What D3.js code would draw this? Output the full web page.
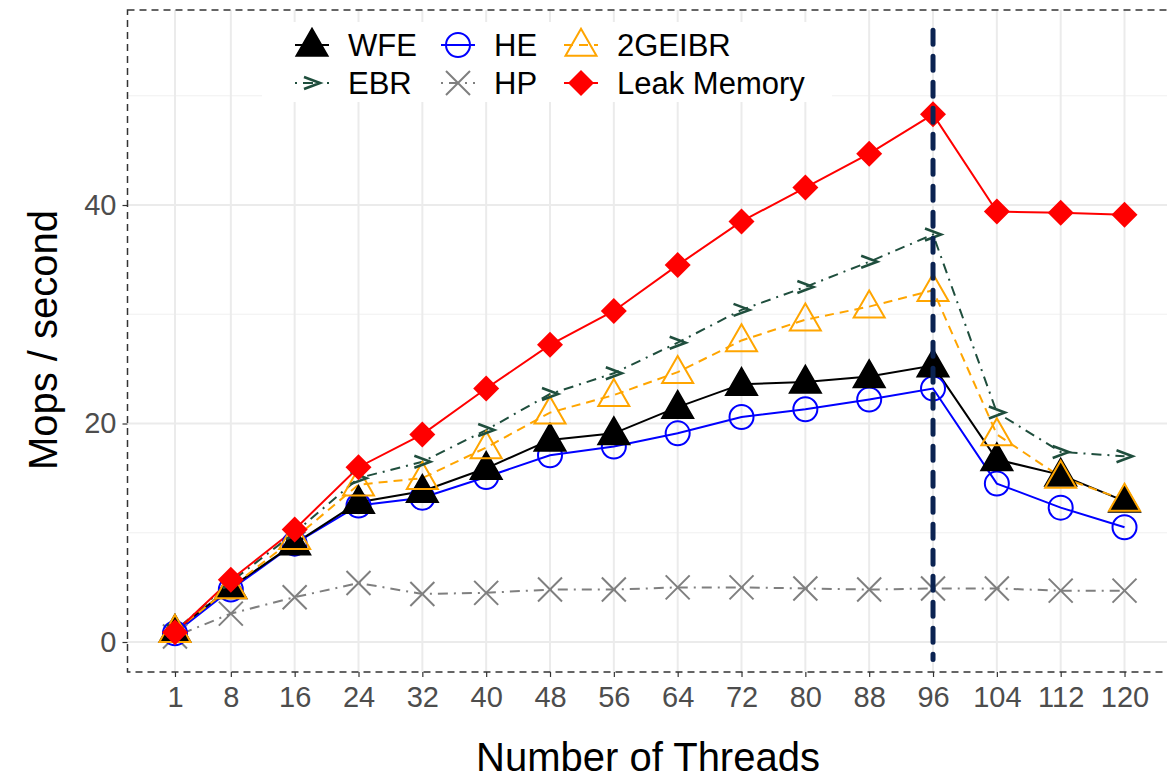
<!DOCTYPE html>
<html>
<head>
<meta charset="utf-8">
<script src="https://cdn.jsdelivr.net/npm/d3@7"></script>
<style>
  body { margin: 0; background: #fff; }
  text { font-family: "Liberation Sans", Arial, Helvetica, sans-serif; }
</style>
</head>
<body>
<svg id="chart" width="1167" height="780"></svg>
<script>
// Thread counts on the x axis.
const threads = [1, 8, 16, 24, 32, 40, 48, 56, 64, 72, 80, 88, 96, 104, 112, 120];

// Throughput (Mops / second).
const wfe = [1.0, 5.0, 9.0, 12.8, 13.8, 15.9, 18.5, 19.1, 21.5, 23.6, 23.8, 24.3, 25.3, 16.7, 15.3, 12.9];
const he = [0.8, 4.8, 9.0, 12.5, 13.2, 15.1, 17.1, 17.9, 19.1, 20.6, 21.3, 22.2, 23.2, 14.5, 12.3, 10.5];
const geibr = [1.0, 5.0, 9.5, 14.4, 15.0, 17.8, 21.0, 22.6, 24.7, 27.6, 29.5, 30.7, 32.2, 19.0, 15.1, 13.0];
const ebr = [1.0, 5.5, 10.0, 15.0, 16.5, 19.4, 22.7, 24.6, 27.4, 30.4, 32.5, 34.8, 37.3, 21.0, 17.4, 17.0];
const hp = [0.5, 2.6, 4.1, 5.4, 4.4, 4.5, 4.8, 4.8, 5.0, 5.0, 4.9, 4.8, 4.9, 4.9, 4.7, 4.7];
const leak = [0.9, 5.7, 10.3, 16.0, 19.0, 23.2, 27.2, 30.3, 34.5, 38.5, 41.6, 44.7, 48.3, 39.4, 39.3, 39.1];

const yTicks = [0, 20, 40];
const yMinor = [10, 30, 50];
const markerThread = 96;

const series = [
  {name: 'HP', values: hp, color: '#7f7f7f', dash: '2,6,10,6', shape: 'cross'},
  {name: 'HE', values: he, color: '#0000ff', dash: null, shape: 'circle'},
  {name: 'WFE', values: wfe, color: '#000000', dash: null, shape: 'triangleFilled'},
  {name: '2GEIBR', values: geibr, color: '#ffa500', dash: '9,6', shape: 'triangleOpen'},
  {name: 'EBR', values: ebr, color: '#1f4e3d', dash: '2,6,10,6', shape: 'chevron'},
  {name: 'Leak Memory', values: leak, color: '#ff0000', dash: null, shape: 'diamond'},
];

const panel = {left: 127.5, right: 1172, top: 10, bottom: 672};

const svg = d3.select('#chart');

const x = d3.scaleLinear()
    .domain([1 - 5.95, 120 + 5.95])
    .range([panel.left, panel.right]);
const y = d3.scaleLinear()
    .domain([-2.746, 57.85])
    .range([panel.bottom, panel.top]);

/**
 * Draws one point marker of the given shape into a group.
 */
function drawShape(g, shape, color, cx, cy) {
  if (shape === 'triangleFilled' || shape === 'triangleOpen') {
    const w = 15.5, h = 27;
    const path = `M${cx},${cy - h * 0.6} L${cx + w},${cy + h * 0.4} L${cx - w},${cy + h * 0.4} Z`;
    g.append('path')
        .attr('d', path)
        .attr('fill', shape === 'triangleFilled' ? color : 'none')
        .attr('stroke', color)
        .attr('stroke-width', 2);
  } else if (shape === 'circle') {
    g.append('circle')
        .attr('cx', cx).attr('cy', cy).attr('r', 12)
        .attr('fill', 'none')
        .attr('stroke', color)
        .attr('stroke-width', 2);
  } else if (shape === 'cross') {
    const s = 12;
    g.append('path')
        .attr('d', `M${cx - s},${cy - s} L${cx + s},${cy + s} M${cx - s},${cy + s} L${cx + s},${cy - s}`)
        .attr('stroke', color)
        .attr('stroke-width', 2)
        .attr('fill', 'none');
  } else if (shape === 'diamond') {
    const s = 13;
    g.append('path')
        .attr('d', `M${cx},${cy - s} L${cx + s},${cy} L${cx},${cy + s} L${cx - s},${cy} Z`)
        .attr('fill', color);
  } else if (shape === 'chevron') {
    g.append('path')
        .attr('d', `M${cx - 8},${cy - 6} L${cx + 8},${cy} L${cx - 8},${cy + 6}`)
        .attr('stroke', color)
        .attr('stroke-width', 2.6)
        .attr('fill', 'none');
  }
}

// Grid lines.
const grid = svg.append('g');
grid.selectAll('line.minor-y')
    .data(yMinor)
    .join('line')
    .attr('x1', panel.left).attr('x2', panel.right)
    .attr('y1', d => y(d)).attr('y2', d => y(d))
    .attr('stroke', '#f0f0f0').attr('stroke-width', 1.2);
grid.selectAll('line.major-y')
    .data(yTicks)
    .join('line')
    .attr('x1', panel.left).attr('x2', panel.right)
    .attr('y1', d => y(d)).attr('y2', d => y(d))
    .attr('stroke', '#ebebeb').attr('stroke-width', 2);
grid.selectAll('line.major-x')
    .data(threads)
    .join('line')
    .attr('x1', d => x(d)).attr('x2', d => x(d))
    .attr('y1', panel.top).attr('y2', panel.bottom)
    .attr('stroke', '#ebebeb').attr('stroke-width', 2);

// Legend background covers the grid.
svg.append('rect')
    .attr('x', 262).attr('y', 22)
    .attr('width', 570).attr('height', 80)
    .attr('fill', '#fff');

// Lines and points.
const line = d3.line()
    .x((d, i) => x(threads[i]))
    .y(d => y(d));

const plot = svg.append('g');
series.forEach(s => {
  plot.append('path')
      .datum(s.values)
      .attr('d', line)
      .attr('fill', 'none')
      .attr('stroke', s.color)
      .attr('stroke-width', 2)
      .attr('stroke-dasharray', s.dash);
});
series.forEach(s => {
  const g = plot.append('g');
  s.values.forEach((v, i) => drawShape(g, s.shape, s.color, x(threads[i]), y(v)));
});

// Vertical marker at 96 threads.
svg.append('line')
    .attr('x1', x(markerThread)).attr('x2', x(markerThread))
    .attr('y1', y(56)).attr('y2', y(-1.6))
    .attr('stroke', '#0b2352')
    .attr('stroke-width', 5)
    .attr('stroke-linecap', 'round')
    .attr('stroke-dasharray', '14,12');

// Dashed panel border.
svg.append('rect')
    .attr('x', panel.left).attr('y', panel.top)
    .attr('width', panel.right - panel.left)
    .attr('height', panel.bottom - panel.top)
    .attr('fill', 'none')
    .attr('stroke', '#333')
    .attr('stroke-width', 1.5)
    .attr('stroke-dasharray', '7,5');

// Axes.
const xAxis = d3.axisBottom(x).tickValues(threads).tickSize(5).tickPadding(8);
const gx = svg.append('g')
    .attr('transform', `translate(0,${panel.bottom})`)
    .call(xAxis);
gx.select('.domain').remove();
gx.selectAll('.tick line').attr('stroke', '#333').attr('stroke-width', 1.2);
gx.selectAll('.tick text')
    .attr('fill', '#4d4d4d')
    .style('font-size', '29px')
    .attr('dy', '0.75em');

const yAxis = d3.axisLeft(y).tickValues(yTicks).tickSize(5).tickPadding(6);
const gy = svg.append('g')
    .attr('transform', `translate(${panel.left},0)`)
    .call(yAxis);
gy.select('.domain').remove();
gy.selectAll('.tick line').attr('stroke', '#333').attr('stroke-width', 1.2);
gy.selectAll('.tick text')
    .attr('fill', '#4d4d4d')
    .style('font-size', '29px');

// Axis titles.
svg.append('text')
    .attr('x', 648).attr('y', 771)
    .attr('text-anchor', 'middle')
    .style('font-size', '40px')
    .text('Number of Threads');
svg.append('text')
    .attr('transform', 'translate(57,340) rotate(-90)')
    .attr('text-anchor', 'middle')
    .style('font-size', '40px')
    .text('Mops / second');

// Legend.
const legendItems = [
  {name: 'WFE', col: 0, row: 0},
  {name: 'HE', col: 1, row: 0},
  {name: '2GEIBR', col: 2, row: 0},
  {name: 'EBR', col: 0, row: 1},
  {name: 'HP', col: 1, row: 1},
  {name: 'Leak Memory', col: 2, row: 1},
];
const legendKeyX = [312, 458, 581];
const legendRowY = [45, 83];
const legend = svg.append('g');
legendItems.forEach(item => {
  const s = series.find(d => d.name === item.name);
  const kx = legendKeyX[item.col];
  const ky = legendRowY[item.row];
  legend.append('line')
      .attr('x1', kx - 17).attr('x2', kx + 17)
      .attr('y1', ky).attr('y2', ky)
      .attr('stroke', s.color)
      .attr('stroke-width', 2)
      .attr('stroke-dasharray', s.dash);
  drawShape(legend, s.shape, s.color, kx, ky);
  legend.append('text')
      .attr('x', kx + 36).attr('y', ky)
      .attr('dy', '0.36em')
      .style('font-size', '31px')
      .text(item.name);
});
</script>
</body>
</html>
